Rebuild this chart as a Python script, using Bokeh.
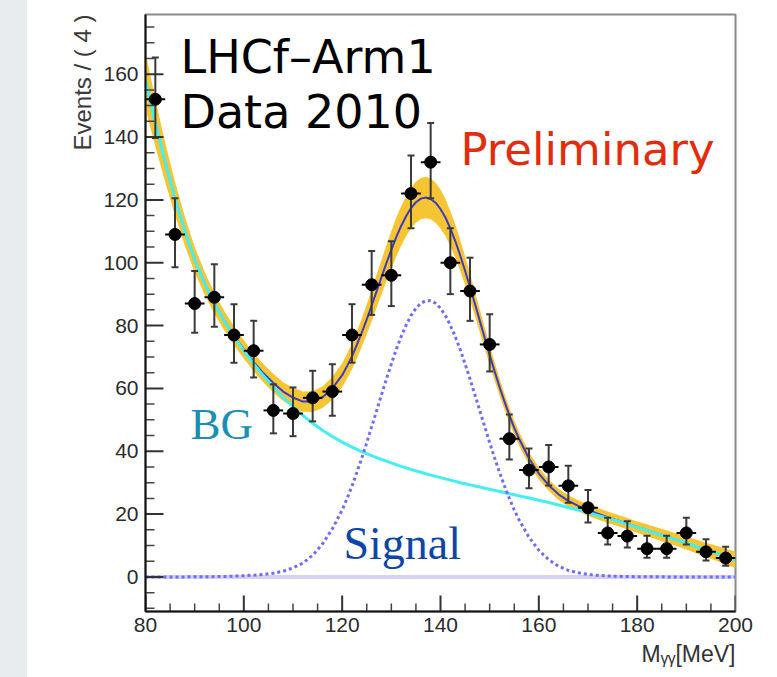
import math
from bokeh.plotting import figure
from bokeh.models import Label, Range1d, FixedTicker, Div, Title
from bokeh.layouts import row
from bokeh.embed import file_html
from bokeh.resources import INLINE

# ---------------- data ----------------
bin_centers = [82, 86, 90, 94, 98, 102, 106, 110, 114, 118, 122, 126, 130, 134, 138,
               142, 146, 150, 154, 158, 162, 166, 170, 174, 178, 182, 186, 190, 194, 198]
counts = [152, 109, 87, 89, 77, 72, 53, 52, 57, 59, 77, 93, 96, 122, 132,
          100, 91, 74, 44, 34, 35, 29, 22, 14, 13, 9, 9, 14, 8, 6]
err_low = [12.3, 10.4, 9.3, 9.4, 8.8, 8.5, 7.3, 7.2, 7.5, 7.7, 8.8, 9.6, 9.8, 11.0, 11.5,
           10.0, 9.5, 8.6, 6.6, 5.8, 5.9, 5.4, 4.7, 3.7, 3.6, 2.9, 2.9, 3.7, 2.8, 2.4]
err_high = [13.3, 11.5, 10.4, 10.5, 9.8, 9.5, 8.3, 8.3, 8.6, 8.7, 9.8, 10.7, 10.8, 12.1, 12.5,
            11.0, 10.6, 9.6, 7.7, 6.9, 7.0, 6.4, 5.7, 4.8, 4.7, 4.1, 4.1, 4.8, 4.0, 3.6]
bin_half_width = 2

curve_x = [80, 82, 84, 86, 88, 90, 92, 94, 96, 98, 100, 102, 104, 106, 108, 110, 112, 114,
           116, 118, 120, 121, 122, 123, 124, 125, 126, 127, 128, 129, 130, 131, 132, 133,
           134, 135, 136, 137, 138, 139, 140, 141, 142, 143, 144, 145, 146, 147, 148, 149,
           150, 151, 152, 153, 154, 155, 156, 158, 160, 162, 164, 166, 168, 170, 172, 174,
           176, 178, 180, 182, 184, 186, 188, 190, 192, 194, 196, 198, 200]
bg_curve = [158.0, 144.5, 132.0, 120.5, 110.0, 101.0, 93.5, 87.0, 81.5, 76.5, 72.0, 67.8,
            64.0, 60.5, 57.2, 54.2, 51.4, 48.9, 46.7, 44.7, 42.9, 42.1, 41.3, 40.6, 39.9,
            39.25, 38.6, 38.0, 37.4, 36.85, 36.3, 35.75, 35.2, 34.7, 34.2, 33.75, 33.3,
            32.85, 32.4, 32.0, 31.6, 31.2, 30.8, 30.4, 30.0, 29.65, 29.3, 28.95, 28.6, 28.25,
            27.9, 27.55, 27.2, 26.85, 26.5, 26.15, 25.8, 25.1, 24.4, 23.7, 22.9, 22.1, 21.3,
            20.5, 19.6, 18.7, 17.8, 16.8, 15.8, 14.8, 13.8, 12.8, 11.8, 10.8, 9.7, 8.6, 7.6,
            6.5, 5.4]
signal_curve = [0.0, 0.0, 0.0, 0.0, 0.02, 0.04, 0.07, 0.1, 0.15, 0.25, 0.4, 0.55, 0.8, 1.2,
                1.8, 2.9, 4.4, 6.9, 10.5, 15.3, 21.3, 25.0, 28.9, 33.3, 37.9, 42.7, 47.8,
                52.9, 58.0, 63.0, 67.8, 72.4, 76.5, 80.1, 83.2, 85.5, 87.1, 87.9, 87.9, 87.1,
                85.5, 83.2, 80.1, 76.5, 72.4, 67.8, 63.0, 58.0, 52.9, 47.8, 42.7, 37.9, 33.3,
                29.0, 25.0, 21.3, 18.1, 12.6, 8.5, 5.5, 3.4, 2.1, 1.3, 0.8, 0.5, 0.3, 0.2,
                0.12, 0.08, 0.05, 0.03, 0.02, 0.01, 0.0, 0.0, 0.0, 0.0, 0.0, 0.0]
total_curve = [158.0, 144.5, 132.0, 120.5, 110.0, 101.0, 93.6, 87.1, 81.65, 76.75, 72.4,
               68.35, 64.8, 61.7, 59.0, 57.1, 55.8, 55.8, 57.2, 60.0, 64.2, 67.1, 70.2,
               73.9, 77.8, 81.95, 86.4, 90.9, 95.4, 99.85, 104.1, 108.15, 111.7, 114.8,
               117.4, 119.25, 120.4, 120.75, 120.3, 119.1, 117.1, 114.4, 110.9, 106.9, 102.4,
               97.45, 92.3, 86.95, 81.5, 76.05, 70.6, 65.45, 60.5, 55.85, 51.5, 47.45, 43.9,
               37.7, 32.9, 29.2, 26.3, 24.2, 22.6, 21.3, 20.1, 19.0, 18.0, 16.92, 15.88,
               14.85, 13.83, 12.82, 11.81, 10.8, 9.7, 8.6, 7.6, 6.5, 5.4]
band_halfwidth = [9.0, 7.5, 6.3, 5.3, 4.6, 4.0, 3.6, 3.3, 3.1, 3.0, 2.9, 2.9, 2.9, 3.0, 3.0,
                  3.1, 3.2, 3.3, 3.4, 3.6, 3.8, 3.95, 4.1, 4.3, 4.5, 4.75, 5.0, 5.25, 5.5,
                  5.75, 6.0, 6.15, 6.3, 6.4, 6.5, 6.55, 6.6, 6.6, 6.5, 6.35, 6.2, 5.9, 5.6,
                  5.25, 4.9, 4.55, 4.2, 3.9, 3.6, 3.35, 3.1, 2.9, 2.7, 2.55, 2.4, 2.3, 2.2,
                  2.0, 1.9, 1.8, 1.8, 1.8, 1.8, 1.8, 1.8, 1.8, 1.8, 1.8, 1.8, 1.9, 1.9, 2.0,
                  2.0, 2.1, 2.2, 2.3, 2.4, 2.5, 2.6]

x_ticks = [80, 100, 120, 140, 160, 180, 200]
y_ticks = [0, 20, 40, 60, 80, 100, 120, 140, 160]
x_minor = [v for v in range(80, 201, 5) if v % 20]
y_minor = [v for v in range(-10, 180, 5) if v % 20]

X0, X1 = 80, 200
Y0, Y1 = -11, 179

# ---------------- figure ----------------
STRIP = 27
FW, FH = 777 - STRIP, 677
FL, FR, FT, FB = 145, 735, 14, 611   # frame edges in window pixels
TXT_SHIFT = 17                       # label baseline correction (px)


def dx(px):
    return X0 + (px - FL) * (X1 - X0) / (FR - FL)


def dy(py):
    return Y0 + (FB - (py - TXT_SHIFT)) * (Y1 - Y0) / (FB - FT)


p = figure(width=FW, height=FH, output_backend="svg", toolbar_location=None,
           x_range=Range1d(X0, X1), y_range=Range1d(Y0, Y1),
           min_border_left=FL - STRIP, min_border_right=FW - (FR - STRIP),
           min_border_top=FT, min_border_bottom=FH - FB)
p.xgrid.visible = False
p.ygrid.visible = False
p.background_fill_color = "white"
p.border_fill_color = "white"
p.outline_line_color = "#8a8a8a"
p.outline_line_width = 2

p.xaxis.ticker = FixedTicker(ticks=x_ticks, minor_ticks=x_minor)
p.yaxis.ticker = FixedTicker(ticks=y_ticks, minor_ticks=y_minor)
for ax in (p.xaxis[0], p.yaxis[0]):
    ax.axis_line_color = "#111111"
    ax.axis_line_width = 2
    ax.major_tick_in = 0
    ax.minor_tick_in = 0
    ax.major_tick_out = 0
    ax.minor_tick_out = 0
    ax.major_label_text_font = "Liberation Sans"
    ax.major_label_text_font_size = "21px"
    ax.major_label_text_color = "#2b2b2b"
p.xaxis.major_label_standoff = 6
p.yaxis.major_label_standoff = 7

# axis titles, ROOT style (aligned to the axis end)
p.add_layout(Title(text="Events / ( 4 )", align="right", text_font="Liberation Sans",
                   text_font_size="24px", text_font_style="normal", text_color="#3a3a3a",
                   standoff=9), "left")
p.add_layout(Title(text="Mᵧᵧ[MeV]", align="right", text_font="Liberation Sans",
                   text_font_size="23px", text_font_style="normal", text_color="#333333",
                   standoff=8), "below")

# zero baseline
p.line([X0, X1], [0, 0], line_color="#d6d1ee", line_width=4)

# error band of the total fit
band_lo = [t - h for t, h in zip(total_curve, band_halfwidth)]
band_hi = [t + h for t, h in zip(total_curve, band_halfwidth)]
p.varea(x=curve_x, y1=band_lo, y2=band_hi, fill_color="#f7c433")

# total fit, background, signal
p.line(curve_x, total_curve, line_color="#3b3bc4", line_width=2)
p.line(curve_x, bg_curve, line_color="#45eef2", line_width=3)
p.line(curve_x, signal_curve, line_color="#6f6cff", line_width=3, line_dash="3 3")

# data points with errors
lo = [c - e for c, e in zip(counts, err_low)]
hi = [c + e for c, e in zip(counts, err_high)]
p.segment(x0=bin_centers, y0=lo, x1=bin_centers, y1=hi, line_color="#3a3a3a", line_width=2)
p.scatter(bin_centers, lo, marker="dash", size=7, line_color="#3a3a3a", line_width=2)
p.scatter(bin_centers, hi, marker="dash", size=7, line_color="#3a3a3a", line_width=2)
xl = [b - bin_half_width for b in bin_centers]
xr = [b + bin_half_width for b in bin_centers]
p.segment(x0=xl, y0=counts, x1=xr, y1=counts, line_color="black", line_width=2)
p.scatter(bin_centers, counts, size=12, fill_color="black", line_color="black")

# inward ticks (ROOT style): dash markers centred on the axis, outer half clipped by the frame
p.scatter([X0] * len(y_ticks), y_ticks, marker="dash", size=36, line_color="#333333",
          line_width=2)
p.scatter([X0] * len(y_minor), y_minor, marker="dash", size=18, line_color="#444444",
          line_width=1.5)
p.scatter(x_ticks, [Y0] * len(x_ticks), marker="dash", angle=math.pi / 2, size=32,
          line_color="#333333", line_width=2)
p.scatter(x_minor, [Y0] * len(x_minor), marker="dash", angle=math.pi / 2, size=16,
          line_color="#444444", line_width=1.5)

# ---------------- texts ----------------
p.add_layout(Label(x=dx(180), y=dy(73), text="LHCf–Arm1", text_font="DejaVu Sans",
                   text_font_size="46px", text_color="black", text_baseline="alphabetic"))
p.add_layout(Label(x=dx(180), y=dy(128), text="Data 2010", text_font="DejaVu Sans",
                   text_font_size="46px", text_color="black", text_baseline="alphabetic"))
p.add_layout(Label(x=dx(460), y=dy(166), text="Preliminary", text_font="DejaVu Sans",
                   text_font_size="45px", text_color="#e32b0d", text_baseline="alphabetic"))
p.add_layout(Label(x=dx(190), y=dy(440), text="BG", text_font="Liberation Serif",
                   text_font_size="45px", text_color="#1a8fb5", text_baseline="alphabetic"))
p.add_layout(Label(x=dx(343), y=dy(560), text="Signal", text_font="Liberation Serif",
                   text_font_size="46px", text_color="#0e45a8", text_baseline="alphabetic"))

strip = Div(width=STRIP, height=FH, styles={"background-color": "#e9ecef"}, margin=0)
layout = row(strip, p, spacing=0)

open("out.html", "w").write(file_html(layout, INLINE))
